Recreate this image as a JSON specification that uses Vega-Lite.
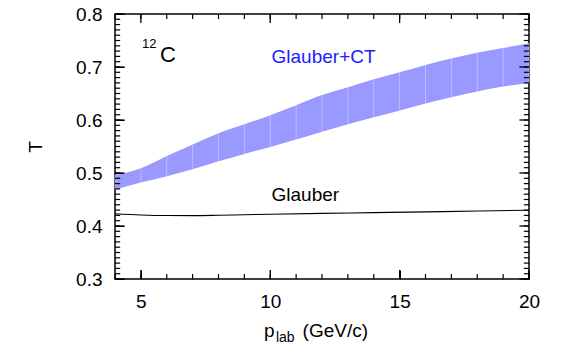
{
  "$schema": "https://vega.github.io/schema/vega-lite/v6.json",
  "width": 414,
  "height": 265,
  "autosize": {"type": "none"},
  "padding": {"left": 115, "top": 14, "right": 38, "bottom": 72},
  "background": "white",
  "config": {
    "view": {"stroke": "black", "strokeWidth": 1.5},
    "font": "Liberation Sans",
    "axis": {"grid": false, "domain": false, "labelColor": "black", "labelFontSize": 19, "labelFont": "Liberation Sans", "titleFont": "Liberation Sans", "titleFontSize": 19, "titleFontWeight": "normal", "titleColor": "black"}
  },
  "datasets": {
    "band": [
      {"p": 4, "lo": 0.469, "hi": 0.496},
      {"p": 5, "lo": 0.482, "hi": 0.509},
      {"p": 6, "lo": 0.494, "hi": 0.532},
      {"p": 7, "lo": 0.507, "hi": 0.554},
      {"p": 8, "lo": 0.522, "hi": 0.575},
      {"p": 9, "lo": 0.536, "hi": 0.592},
      {"p": 10, "lo": 0.549, "hi": 0.609},
      {"p": 11, "lo": 0.563, "hi": 0.628},
      {"p": 12, "lo": 0.578, "hi": 0.647},
      {"p": 13, "lo": 0.592, "hi": 0.662},
      {"p": 14, "lo": 0.605, "hi": 0.677},
      {"p": 15, "lo": 0.618, "hi": 0.690},
      {"p": 16, "lo": 0.631, "hi": 0.704},
      {"p": 17, "lo": 0.643, "hi": 0.716},
      {"p": 18, "lo": 0.654, "hi": 0.727},
      {"p": 19, "lo": 0.663, "hi": 0.736},
      {"p": 20, "lo": 0.670, "hi": 0.745}
    ],
    "glauber": [
      {"p": 4, "T": 0.4232},
      {"p": 5, "T": 0.4208},
      {"p": 6, "T": 0.4197},
      {"p": 7, "T": 0.4196},
      {"p": 8, "T": 0.4203},
      {"p": 9, "T": 0.4213},
      {"p": 10, "T": 0.4222},
      {"p": 12, "T": 0.4238},
      {"p": 14, "T": 0.4252},
      {"p": 16, "T": 0.4267},
      {"p": 18, "T": 0.4282},
      {"p": 20, "T": 0.4298}
    ],
    "xt": [{"v": 4}, {"v": 5}, {"v": 6}, {"v": 7}, {"v": 8}, {"v": 9}, {"v": 10}, {"v": 11}, {"v": 12}, {"v": 13}, {"v": 14}, {"v": 15}, {"v": 16}, {"v": 17}, {"v": 18}, {"v": 19}, {"v": 20}],
    "yt": [{"v": 0.3}, {"v": 0.31}, {"v": 0.32}, {"v": 0.33}, {"v": 0.34}, {"v": 0.35}, {"v": 0.36}, {"v": 0.37}, {"v": 0.38}, {"v": 0.39}, {"v": 0.4}, {"v": 0.41}, {"v": 0.42}, {"v": 0.43}, {"v": 0.44}, {"v": 0.45}, {"v": 0.46}, {"v": 0.47}, {"v": 0.48}, {"v": 0.49}, {"v": 0.5}, {"v": 0.51}, {"v": 0.52}, {"v": 0.53}, {"v": 0.54}, {"v": 0.55}, {"v": 0.56}, {"v": 0.57}, {"v": 0.58}, {"v": 0.59}, {"v": 0.6}, {"v": 0.61}, {"v": 0.62}, {"v": 0.63}, {"v": 0.64}, {"v": 0.65}, {"v": 0.66}, {"v": 0.67}, {"v": 0.68}, {"v": 0.69}, {"v": 0.7}, {"v": 0.71}, {"v": 0.72}, {"v": 0.73}, {"v": 0.74}, {"v": 0.75}, {"v": 0.76}, {"v": 0.77}, {"v": 0.78}, {"v": 0.79}, {"v": 0.8}]
  },
  "resolve": {"axis": {"x": "independent", "y": "independent"}},
  "layer": [
    {
      "data": {"name": "band"},
      "mark": {"type": "area", "color": "#9999ff", "opacity": 1, "interpolate": "monotone"},
      "encoding": {
        "x": {"field": "p", "type": "quantitative", "scale": {"domain": [4, 20], "nice": false},
          "axis": {"orient": "bottom", "title": null, "values": [5, 10, 15, 20], "ticks": true, "tickColor": "black", "offset": -9, "tickSize": 9, "labelPadding": 13, "labelFlush": false}},
        "y": {"field": "lo", "type": "quantitative", "scale": {"domain": [0.3, 0.8], "nice": false, "zero": false},
          "axis": {"orient": "left", "title": "T", "titlePadding": 30, "values": [0.3, 0.4, 0.5, 0.6, 0.7, 0.8], "format": ".1f", "ticks": true, "tickColor": "black", "offset": -9, "tickSize": 9, "labelPadding": 13, "labelFlush": false}},
        "y2": {"field": "hi"}
      }
    },
    {
      "data": {"name": "band"},
      "mark": {"type": "rule", "color": "white", "opacity": 0.35, "strokeWidth": 1},
      "encoding": {
        "x": {"field": "p", "type": "quantitative", "axis": null},
        "y": {"field": "lo", "type": "quantitative", "axis": null},
        "y2": {"field": "hi"}
      }
    },
    {
      "data": {"name": "glauber"},
      "mark": {"type": "line", "color": "black", "strokeWidth": 1.1, "interpolate": "monotone"},
      "encoding": {
        "x": {"field": "p", "type": "quantitative", "axis": null},
        "y": {"field": "T", "type": "quantitative", "axis": null}
      }
    },
    {
      "data": {"name": "xt"},
      "transform": [{"filter": "datum.v % 5 == 0"}],
      "mark": {"type": "rule", "color": "black", "strokeWidth": 1.3},
      "encoding": {"x": {"field": "v", "type": "quantitative", "axis": null}, "y": {"datum": 0.3, "type": "quantitative", "axis": null}, "y2": {"datum": 0.317}}
    },
    {
      "data": {"name": "xt"},
      "mark": {"type": "rule", "color": "black", "strokeWidth": 1.2},
      "encoding": {"x": {"field": "v", "type": "quantitative", "axis": null}, "y": {"datum": 0.3, "type": "quantitative", "axis": null}, "y2": {"datum": 0.3094}}
    },
    {
      "data": {"name": "xt"},
      "transform": [{"filter": "datum.v % 5 == 0"}],
      "mark": {"type": "rule", "color": "black", "strokeWidth": 1.3},
      "encoding": {"x": {"field": "v", "type": "quantitative", "axis": null}, "y": {"datum": 0.8, "type": "quantitative", "axis": null}, "y2": {"datum": 0.783}}
    },
    {
      "data": {"name": "xt"},
      "mark": {"type": "rule", "color": "black", "strokeWidth": 1.2},
      "encoding": {"x": {"field": "v", "type": "quantitative", "axis": null}, "y": {"datum": 0.8, "type": "quantitative", "axis": null}, "y2": {"datum": 0.7906}}
    },
    {
      "data": {"name": "yt"},
      "transform": [{"filter": "round(datum.v * 100) % 10 == 0"}],
      "mark": {"type": "rule", "color": "black", "strokeWidth": 1.3},
      "encoding": {"y": {"field": "v", "type": "quantitative", "axis": null}, "x": {"datum": 4, "type": "quantitative", "axis": null}, "x2": {"datum": 4.37}}
    },
    {
      "data": {"name": "yt"},
      "mark": {"type": "rule", "color": "black", "strokeWidth": 1.2},
      "encoding": {"y": {"field": "v", "type": "quantitative", "axis": null}, "x": {"datum": 4, "type": "quantitative", "axis": null}, "x2": {"datum": 4.2}}
    },
    {
      "data": {"name": "yt"},
      "transform": [{"filter": "round(datum.v * 100) % 10 == 0"}],
      "mark": {"type": "rule", "color": "black", "strokeWidth": 1.3},
      "encoding": {"y": {"field": "v", "type": "quantitative", "axis": null}, "x": {"datum": 20, "type": "quantitative", "axis": null}, "x2": {"datum": 19.63}}
    },
    {
      "data": {"name": "yt"},
      "mark": {"type": "rule", "color": "black", "strokeWidth": 1.2},
      "encoding": {"y": {"field": "v", "type": "quantitative", "axis": null}, "x": {"datum": 20, "type": "quantitative", "axis": null}, "x2": {"datum": 19.8}}
    },
    {
      "data": {"values": [{"t": "Glauber+CT"}]},
      "mark": {"type": "text", "align": "left", "baseline": "alphabetic", "fontSize": 19, "color": "#2020ff"},
      "encoding": {"x": {"datum": 10.05, "type": "quantitative", "axis": null}, "y": {"datum": 0.7075, "type": "quantitative", "axis": null}, "text": {"field": "t"}}
    },
    {
      "data": {"values": [{"t": "Glauber"}]},
      "mark": {"type": "text", "align": "left", "baseline": "alphabetic", "fontSize": 19, "color": "black"},
      "encoding": {"x": {"datum": 10.05, "type": "quantitative", "axis": null}, "y": {"datum": 0.4477, "type": "quantitative", "axis": null}, "text": {"field": "t"}}
    },
    {
      "data": {"values": [{"t": "12"}]},
      "mark": {"type": "text", "align": "left", "baseline": "alphabetic", "fontSize": 13, "color": "black"},
      "encoding": {"x": {"datum": 5.04, "type": "quantitative", "axis": null}, "y": {"datum": 0.736, "type": "quantitative", "axis": null}, "text": {"field": "t"}}
    },
    {
      "data": {"values": [{"t": "C"}]},
      "mark": {"type": "text", "align": "left", "baseline": "alphabetic", "fontSize": 22, "color": "black"},
      "encoding": {"x": {"datum": 5.74, "type": "quantitative", "axis": null}, "y": {"datum": 0.709, "type": "quantitative", "axis": null}, "text": {"field": "t"}}
    },
    {
      "data": {"values": [{"t": "p"}]},
      "mark": {"type": "text", "align": "left", "baseline": "alphabetic", "fontSize": 19, "color": "black", "dy": 58, "clip": false},
      "encoding": {"x": {"datum": 9.76, "type": "quantitative", "axis": null}, "y": {"datum": 0.3, "type": "quantitative", "axis": null}, "text": {"field": "t"}}
    },
    {
      "data": {"values": [{"t": "lab"}]},
      "mark": {"type": "text", "align": "left", "baseline": "alphabetic", "fontSize": 14, "color": "black", "dy": 63, "clip": false},
      "encoding": {"x": {"datum": 10.22, "type": "quantitative", "axis": null}, "y": {"datum": 0.3, "type": "quantitative", "axis": null}, "text": {"field": "t"}}
    },
    {
      "data": {"values": [{"t": "(GeV/c)"}]},
      "mark": {"type": "text", "align": "left", "baseline": "alphabetic", "fontSize": 19, "color": "black", "dy": 58, "clip": false},
      "encoding": {"x": {"datum": 11.25, "type": "quantitative", "axis": null}, "y": {"datum": 0.3, "type": "quantitative", "axis": null}, "text": {"field": "t"}}
    }
  ]
}
